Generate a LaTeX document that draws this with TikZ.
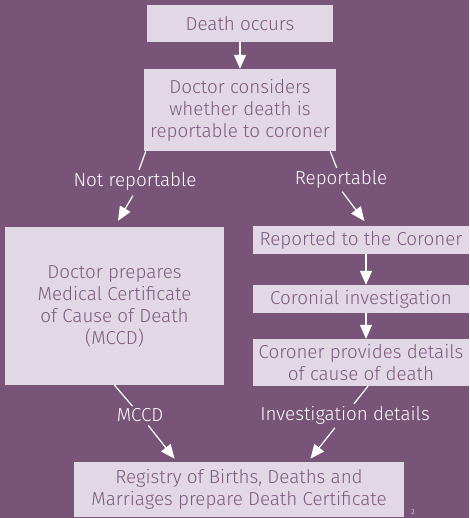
\documentclass[tikz,border=0pt]{standalone}
\usepackage{fontspec}
\setmainfont{Fira Sans Light}
\usetikzlibrary{arrows.meta}
\definecolor{bg}{HTML}{785478}
\definecolor{boxfill}{HTML}{E1D7E5}
\definecolor{boxtext}{HTML}{7D5A7E}
\tikzset{
  box/.style={fill=boxfill, text=boxtext, align=center, inner sep=0pt, font=\fontsize{18.8}{22}\selectfont},
  lbl/.style={text=white, align=center, inner sep=2pt, font=\fontsize{18.8}{22}\selectfont},
  ln/.style={draw=white, line width=1.2pt},
  arr/.style={draw=white, line width=1.2pt, -{Triangle[width=12pt,length=14pt]}},
}
\begin{document}
\begin{tikzpicture}[x=1pt,y=-1pt]
\fill[bg] (0,0) rectangle (469,518);
\useasboundingbox (0,0) rectangle (469,518);
\node[box, minimum width=186, minimum height=37] (death) at (240,23.5) {Death occurs};
\node[box, minimum width=192, minimum height=82] (doc) at (240,110) {Doctor considers\\whether death is\\reportable to coroner};
\node[box, minimum width=219, minimum height=158] (prep) at (114.5,306) {Doctor prepares\\Medical Certificate\\of Cause of Death\\(MCCD)};
\node[box, minimum width=216, minimum height=28] (rep) at (361,240) {Reported to the Coroner};
\node[box, minimum width=216, minimum height=28] (inv) at (361,299) {Coronial investigation};
\node[box, minimum width=216, minimum height=47] (prov) at (361,362.5) {Coroner provides details\\of cause of death};
\node[box, minimum width=330, minimum height=55] (reg) at (239,489.5) {Registry of Births, Deaths and\\Marriages prepare Death Certificate};
\node[lbl] (notrep) at (135,181) {Not reportable};
\node[lbl] (reptl) at (341,179) {Reportable};
\node[lbl] (mccdl) at (140,415) {MCCD};
\node[lbl] (invdl) at (345,415) {Investigation details};
\node[text=white, font=\fontsize{7}{8}\selectfont, inner sep=0pt] (pg) at (413,512) {2};
\draw[arr] (death) -- (doc);
\draw[ln] ([xshift=2]doc.south west) -- (notrep);
\draw[arr, shorten <=4pt, shorten >=7pt] (notrep.south) -- (prep.north);
\draw[ln] ([xshift=-6]doc.south east) -- (reptl);
\draw[arr, shorten <=2pt, shorten >=6pt] (reptl.south) -- ([xshift=7]rep.north);
\draw[arr] ([xshift=5]rep.south) -- ([xshift=5]inv.north);
\draw[arr] ([xshift=5]inv.south) -- ([xshift=5]prov.north);
\draw[ln] (prep.south) -- (mccdl);
\draw[arr, shorten <=2pt, shorten >=4pt] (mccdl) -- ([xshift=-62]reg.north);
\draw[ln] ([xshift=7]prov.south) -- (invdl);
\draw[arr, shorten <=2pt, shorten >=4pt] (invdl) -- ([xshift=69]reg.north);
\end{tikzpicture}
\end{document}
